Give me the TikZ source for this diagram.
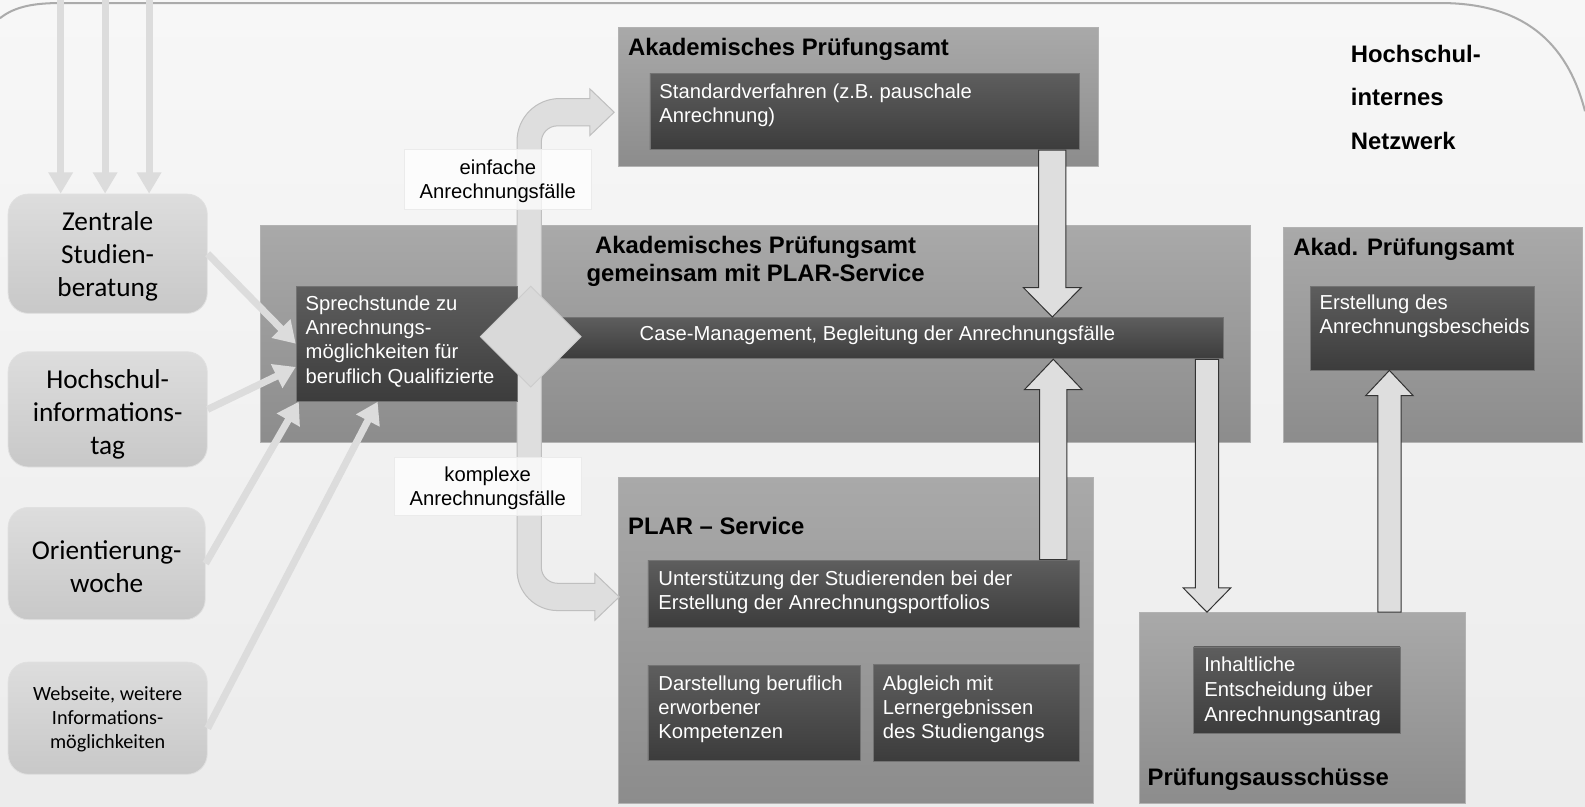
\documentclass[tikz,border=0pt]{standalone}
\usepackage{fontspec}
\setmainfont{Liberation Sans}
\newfontfamily\carlito{Carlito}
\usetikzlibrary{calc,fit,positioning,shapes.geometric,arrows.meta}

\definecolor{bgtop}{HTML}{F7F7F7}
\definecolor{bgbot}{HTML}{ECECEC}
\definecolor{conttop}{HTML}{A9A9A9}
\definecolor{contbot}{HTML}{8C8C8C}
\definecolor{darktop}{HTML}{5E5E5E}
\definecolor{darkbot}{HTML}{3C3C3C}
\definecolor{lefttop}{HTML}{DDDDDD}
\definecolor{leftbot}{HTML}{C8C8C8}
\definecolor{arrowgrey}{HTML}{DCDCDC}
\definecolor{fatfill}{HTML}{DEDEDE}
\definecolor{framegrey}{HTML}{ABABAB}

\newcommand{\wfont}{\fontsize{10}{12}\selectfont}
\newcommand{\boxtitlefont}{\fontsize{11.8}{14}\selectfont\bfseries}
\newcommand{\srcfont}{\carlito\fontsize{13.5}{16.3}\selectfont}

\tikzset{
    contbox/.style = {draw=black!30, line width=0.4pt, top color=conttop, bottom color=contbot, inner sep=0pt},
    darkbox/.style = {draw=black!55, line width=0.4pt, top color=darktop, bottom color=darkbot, inner sep=0pt},
    srcbox/.style = {draw=black!12, line width=0.4pt, rounded corners=10pt, top color=lefttop, bottom color=leftbot, inner sep=0pt},
    srctext/.style = {inner sep=0pt, align=center, font=\srcfont},
    casebox/.style = {fill=white, fill opacity=0.75, draw=black!8, inner sep=0pt},
    casetext/.style = {inner sep=0pt, align=center, font=\wfont},
    title/.style = {anchor=base west, inner sep=0pt, align=left, font=\boxtitlefont},
    wtext/.style = {anchor=base west, inner sep=0pt, align=left, text=white, font=\wfont},
    srcarrow/.style = {draw=arrowgrey, line width=3.5pt, -{Triangle[width=12.5pt,length=10.5pt]}},
    fatarrow/.style = {draw=black!80, line width=0.5pt, fill=fatfill},
    bendarrow/.style = {draw=black!25, line width=0.5pt, fill=fatfill},
    decision/.style = {diamond, aspect=1, minimum size=50pt, inner sep=0pt, fill=black!15, draw=black!20}
}

% block arrow: shaft half width, head half width, head length, from, to (vertical)
\newcommand{\fatarrow}[5]{%
    \draw[fatarrow] let \p1=(#4), \p2=(#5), \n1={ifthenelse(\y2>\y1,1,-1)} in
        ({\x1-#1},\y1) -- ({\x1-#1},{\y2-(\n1)*#3}) -- ({\x1-#2},{\y2-(\n1)*#3}) -- (\x1,\y2)
        -- ({\x1+#2},{\y2-(\n1)*#3}) -- ({\x1+#1},{\y2-(\n1)*#3}) -- ({\x1+#1},\y1) -- cycle;}

\begin{document}
\begin{tikzpicture}[x=0.5pt, y=-0.5pt]
    \useasboundingbox (0,0) rectangle (1568,798);
    \fill[top color=bgtop, bottom color=bgbot] (0,0) rectangle (1568,798);
    \draw[framegrey, line width=1pt] (0,18) .. controls (15,6) and (35,3) .. (60,3) -- (1425,3)
        .. controls (1505,3) and (1550,40) .. (1568,110);

    % sources on the left
    \node[srcbox, fit={(8,192) (205,310)}] (zsb) {};
    \node[srcbox, fit={(8,348) (205,462)}] (hit) {};
    \node[srcbox, fit={(8,502) (203,613)}] (ow) {};
    \node[srcbox, fit={(8,655) (205,766)}] (web) {};
    \node[srctext] (zsb-t) at ($(zsb.center)+(0,3)$) {Zentrale\\Studien-\\beratung};
    \node[srctext] (hit-t) at ($(hit.center)+(0,5)$) {Hochschul-\\informations-\\tag};
    \node[srctext] (ow-t) at ($(ow.center)+(0,3)$) {Orientierung-\\woche};
    \node[srctext, font=\carlito\fontsize{10}{12}\selectfont] (web-t) at ($(web.center)+(0,1)$)
        {Webseite, weitere\\Informations-\\möglichkeiten};

    \foreach \i/\x in {1/60, 2/104, 3/147.5} {
        \coordinate (in\i) at (\x,0);
        \draw[srcarrow, -{Triangle[width=11.5pt,length=10.5pt]}] (in\i) -- (in\i |- zsb.north);
    }

    % offices
    \node[contbox, fit={(612,27) (1087,165)}] (apa) {};
    \node[contbox, fit={(258,223) (1237,438)}] (apgp) {};
    \node[contbox, fit={(1270,225) (1565,438)}] (akad) {};
    \node[contbox, fit={(612,472) (1082,795)}] (plar) {};
    \node[contbox, fit={(1127,606) (1450,795)}] (pa) {};

    % split into simple and complex cases
    \draw[bendarrow] let \p1=(525,333), \p2=($(apa.west)+(-4,15)$), \p3=($(plar.west)+(1,-43)$) in
        ({\x2-12pt},{\y2-6.75pt}) -- ({\x2-12pt},{\y2-11.5pt}) -- (\x2,\y2)
        -- ({\x2-12pt},{\y2+11.5pt}) -- ({\x2-12pt},{\y2+6.75pt})
        -- ({\x1-6.75pt+21pt},{\y2+6.75pt}) arc[start angle=90, end angle=180, radius=21pt]
        -- ({\x1-6.75pt},{\y3-6.75pt+20pt}) arc[start angle=180, end angle=270, radius=20pt]
        -- ({\x3-12pt},{\y3-6.75pt}) -- ({\x3-12pt},{\y3-11.5pt}) -- (\x3,\y3)
        -- ({\x3-12pt},{\y3+11.5pt}) -- ({\x3-12pt},{\y3+6.75pt})
        -- ({\x1+5.25pt+8pt},{\y3+6.75pt}) arc[start angle=270, end angle=180, radius=8pt]
        -- ({\x1+5.25pt},{\y2-6.75pt-8pt}) arc[start angle=180, end angle=90, radius=8pt]
        -- cycle;

    \node[darkbox, fit={(643,73) (1068,148)}] (std) {};
    \node[darkbox, fit={(293,283) (512,397)}] (spr) {};
    \node[darkbox, fit={(512,314) (1210,355)}] (case) {};
    \node[darkbox, fit={(1296,283) (1518,366)}] (erst) {};
    \node[darkbox, fit={(641,554) (1068,621)}] (unt) {};
    \node[darkbox, fit={(641,658) (851,752)}] (dar) {};
    \node[darkbox, fit={(864,657) (1068,753)}] (abg) {};
    \node[darkbox, fit={(1181,640) (1385,726)}] (inh) {};

    \node[decision] (dia) at (525,333) {};

    \node[casebox, fit={(400,148) (585,207)}] (einf) {};
    \node[casebox, fit={(390,452) (575,510)}] (kompl) {};
    \node[casetext] (einf-t) at ($(einf.center)+(0,2)$) {einfache\\Anrechnungsfälle};
    \node[casetext] (kompl-t) at ($(kompl.center)+(0,2)$) {komplexe\\Anrechnungsfälle};

    % flow between offices
    \fatarrow{6.75pt}{14.25pt}{14.5pt}{$(std.south)+(185.5,0)$}{case.north}
    \fatarrow{6.75pt}{14.25pt}{15pt}{$(unt.north)+(187.5,0)$}{case.south}
    \fatarrow{5.75pt}{11.75pt}{12pt}{$(case.south)+(333,0)$}{pa.north}
    \fatarrow{5.75pt}{11.75pt}{12.5pt}{$(pa.north)+(86,0)$}{erst.south}

    \draw[srcarrow] (zsb.east) -- (spr.west);
    \draw[srcarrow] (hit.east) -- ($(spr.west)+(0,23)$);
    \draw[srcarrow] (ow.east) -- ($(spr.south west)+(3,0)$);
    \draw[srcarrow] ($(web.east)+(0,10)$) -- ($(spr.south west)+(81,0)$);

    % texts (multi-line nodes sit on their last baseline)
    \node[title] (apa-t) at (621,55) {Akademisches Prüfungsamt};
    \node[title, anchor=base, align=center] (apgp-t) at (747.5,278.5)
        {Akademisches Prüfungsamt\\gemeinsam mit PLAR-Service};
    \node[title] (akad-t) at (1279,252.5) {Akad. Prüfungsamt};
    \node[title] (plar-t) at (621,528.5) {PLAR – Service};
    \node[title] (pa-t) at (1135,777.5) {Prüfungsausschüsse};
    \node[title, font=\fontsize{11.8}{21.5}\selectfont\bfseries] (net) at (1336,147.5)
        {Hochschul-\\internes\\Netzwerk};

    \node[wtext] (std-t) at (652,121) {Standardverfahren (z.B. pauschale\\Anrechnung)};
    \node[wtext] (spr-t) at (302,379)
        {Sprechstunde zu\\Anrechnungs-\\möglichkeiten für\\beruflich Qualifizierte};
    \node[wtext, anchor=base] (case-t) at (868,337) {Case-Management, Begleitung der Anrechnungsfälle};
    \node[wtext] (erst-t) at (1305,330) {Erstellung des\\Anrechnungsbescheids};
    \node[wtext] (unt-t) at (651,603)
        {Unterstützung der Studierenden bei der\\Erstellung der Anrechnungsportfolios};
    \node[wtext] (dar-t) at (651,731) {Darstellung beruflich\\erworbener\\Kompetenzen};
    \node[wtext] (abg-t) at (873,731) {Abgleich mit\\Lernergebnissen\\des Studiengangs};
    \node[wtext, font=\fontsize{10}{12.5}\selectfont] (inh-t) at (1191,714)
        {Inhaltliche\\Entscheidung über\\Anrechnungsantrag};
\end{tikzpicture}
\end{document}
